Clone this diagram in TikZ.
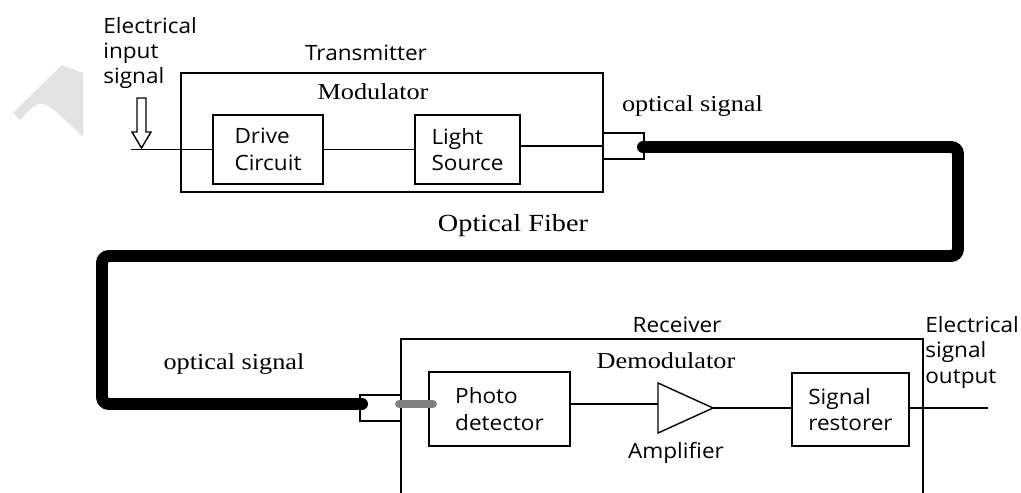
\documentclass[tikz,border=0pt]{standalone}
\usepackage{fontspec}
\setmainfont{Liberation Serif}[FakeStretch=1.15]
\setsansfont{Open Sans}[FakeStretch=1.07]
\usetikzlibrary{positioning,calc}
\tikzset{
  block/.style={
    draw=black,
    line width=0.8pt,
    fill=white,
    align=left,
    inner sep=0pt,
    font=\sffamily\fontsize{12}{15}\selectfont
  },
  plug/.style={draw=black, line width=0.8pt, fill=white, minimum width=8.2mm, minimum height=5.2mm, inner sep=0pt},
  wire/.style={line width=0.8pt},
  fibre/.style={line width=6.8pt, line cap=round, rounded corners=4pt},
  stub/.style={line width=5pt, line cap=round, draw=gray},
  sflabel/.style={inner sep=0pt, align=left, font=\sffamily\fontsize{12}{14.5}\selectfont},
  rmlabel/.style={inner sep=0pt, font=\fontsize{13}{15}\selectfont}
}
\newcommand{\hollowarrow}[1]{\draw[wire, fill=white] (#1) ++(-4.5,-50) -- ++(9,0) -- ++(0,34) -- ++(5,0) -- ++(-9.5,16) -- ++(-9.5,-16) -- ++(5,0) -- cycle;}

\begin{document}
\begin{tikzpicture}[x=0.02cm, y=-0.02cm]
  \fill[white] (0,0) rectangle (1021,493);
  \useasboundingbox (0,0) rectangle (1021,493);
  % watermark
  \fill[gray!22] (13,113) -- (62,65) -- (83,73) -- (83,137) .. controls (62,117) and (48,101) .. (38,104) .. controls (30,108) and (25,115) .. (20,120) -- cycle;

  % transmitter
  \node[block, minimum width=84.4mm, minimum height=23.8mm] (tx) at (392,132.5) {};
  \node[block, minimum width=22mm, minimum height=13.8mm] (drive) at (268,149.5) {Drive\\ Circuit};
  \node[block, minimum width=21mm, minimum height=13.8mm] (light) at (467.5,149.5) {Light\\Source};
  \node[plug] (conn1) at (623.5,146) {};
  \node[sflabel, anchor=base] (txlabel) at (366,61) {Transmitter};
  \node[rmlabel, anchor=base] (modlabel) at (373,100) {Modulator};
  \node[sflabel, anchor=base west] (inlabel) at (103,84) {Electrical\\input\\signal};
  \coordinate (in-start) at (131,149.5);
  \coordinate (in-tip) at (141.5,148);
  \draw[wire] (in-start) -- (drive.west);
  \hollowarrow{in-tip}
  \draw[wire] (drive) -- (light);
  \draw[wire] (conn1.west -| light.east) -- (conn1.west);

  % receiver
  \draw[wire] (401,493) -- (401,339) -- (923,339) -- (923,493);
  \node[plug] (conn2) at (380.5,408) {};
  \node[block, minimum width=28.2mm, minimum height=14.8mm] (photo) at (499.5,409) {Photo\\detector};
  \node[block, minimum width=23.4mm, minimum height=14.6mm] (restorer) at (850.5,409.5) {Signal\\restorer};
  \coordinate (amp-in) at (658,404);
  \coordinate (amp-out) at (713,408);
  \coordinate (out-end) at (988,408);
  \draw[wire] (658,383) -- (amp-out) -- (658,433) -- cycle;
  \draw[wire] (photo.east |- amp-in) -- (amp-in);
  \draw[wire] (amp-out) -- (restorer.west |- amp-out);
  \draw[wire] (restorer.east |- out-end) -- (out-end);
  \node[sflabel, anchor=base] (rxlabel) at (677,333) {Receiver};
  \node[rmlabel, anchor=base] (demodlabel) at (666,368) {Demodulator};
  \node[sflabel, anchor=base] (amplabel) at (676,458) {Amplifier};
  \node[sflabel, anchor=base west] (outlabel) at (925,383) {Electrical\\signal\\output};

  % fibre link
  \coordinate (fib-start) at (643,147);
  \coordinate (fib-end) at (362,404);
  \draw[fibre] (fib-start) -- (958,147) -- (958,256) -- (102,256) -- (102,404) -- (fib-end);
  \coordinate (rx-in) at (399.5,404);
  \coordinate (rx-pd) at (432.5,404);
  \draw[stub] (rx-in) -- (rx-pd);
  \node[rmlabel, anchor=base] (sig1) at (692.5,112) {optical signal};
  \node[rmlabel, anchor=base, font=\fontsize{14}{16}\selectfont] (fiblabel) at (513,232) {Optical Fiber};
  \node[rmlabel, anchor=base] (sig2) at (234,369) {optical signal};
\end{tikzpicture}
\end{document}
